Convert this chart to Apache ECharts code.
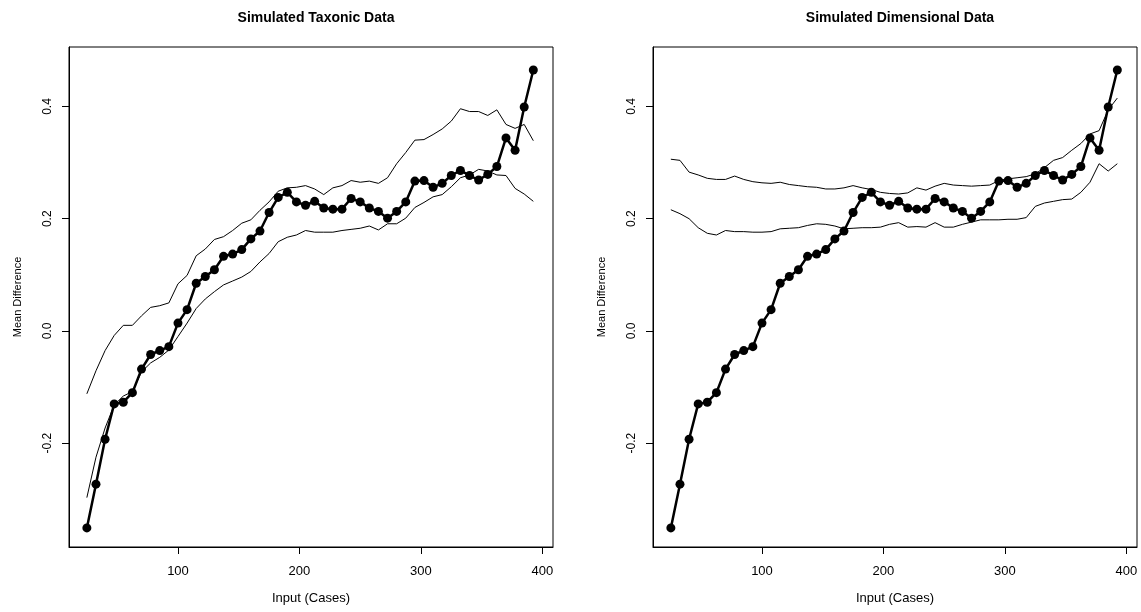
<!DOCTYPE html>
<html>
<head>
<meta charset="utf-8">
<script src="https://cdn.jsdelivr.net/npm/echarts@6/dist/echarts.min.js"></script>
<style>
  html, body { margin: 0; padding: 0; background: #ffffff; }
  #chart { width: 1141px; height: 612px; }
</style>
</head>
<body>
<div id="chart"></div>
<script>
// Sample sizes (number of input cases) shared by every curve
const inputCases = [
  25, 32.5, 40, 47.5, 55, 62.5, 70, 77.5, 85, 92.5,
  100, 107.5, 115, 122.5, 130, 137.5, 145, 152.5, 160, 167.5,
  175, 182.5, 190, 197.5, 205, 212.5, 220, 227.5, 235, 242.5,
  250, 257.5, 265, 272.5, 280, 287.5, 295, 302.5, 310, 317.5,
  325, 332.5, 340, 347.5, 355, 362.5, 370, 377.5, 385, 392.5
];

// Observed mean difference (same curve in both panels)
const meanDifference = [
  -0.351, -0.273, -0.193, -0.130, -0.127, -0.110, -0.068, -0.042, -0.035, -0.028,
  0.014, 0.038, 0.085, 0.097, 0.109, 0.133, 0.137, 0.145, 0.164, 0.178,
  0.211, 0.238, 0.247, 0.230, 0.224, 0.231, 0.219, 0.217, 0.217, 0.236,
  0.230, 0.219, 0.213, 0.201, 0.213, 0.230, 0.267, 0.268, 0.256, 0.263,
  0.277, 0.286, 0.277, 0.269, 0.279, 0.293, 0.344, 0.322, 0.399, 0.465
];

// Simulated taxonic data: upper and lower curves
const taxonicUpper = [
  -0.112, -0.071, -0.035, -0.008, 0.010, 0.010, 0.027, 0.042, 0.045, 0.050,
  0.084, 0.099, 0.134, 0.146, 0.163, 0.168, 0.179, 0.192, 0.198, 0.215,
  0.230, 0.249, 0.255, 0.256, 0.259, 0.253, 0.243, 0.255, 0.259, 0.268,
  0.265, 0.267, 0.263, 0.273, 0.298, 0.318, 0.340, 0.341, 0.350, 0.360,
  0.374, 0.396, 0.391, 0.391, 0.384, 0.394, 0.368, 0.361, 0.368, 0.339
];
const taxonicLower = [
  -0.297, -0.225, -0.173, -0.132, -0.116, -0.108, -0.073, -0.057, -0.047, -0.034,
  -0.010, 0.014, 0.040, 0.057, 0.070, 0.082, 0.089, 0.096, 0.106, 0.123,
  0.138, 0.159, 0.167, 0.171, 0.179, 0.176, 0.176, 0.176, 0.179, 0.181,
  0.183, 0.187, 0.180, 0.191, 0.191, 0.201, 0.220, 0.229, 0.239, 0.243,
  0.257, 0.273, 0.278, 0.288, 0.285, 0.278, 0.277, 0.254, 0.244, 0.231
];

// Simulated dimensional data: upper and lower curves
const dimensionalUpper = [
  0.306, 0.304, 0.283, 0.278, 0.272, 0.270, 0.270, 0.276, 0.270, 0.266,
  0.264, 0.263, 0.265, 0.261, 0.259, 0.257, 0.256, 0.253, 0.253, 0.255,
  0.259, 0.255, 0.252, 0.247, 0.245, 0.244, 0.246, 0.255, 0.251, 0.258,
  0.263, 0.260, 0.259, 0.258, 0.259, 0.260, 0.268, 0.271, 0.273, 0.275,
  0.280, 0.291, 0.304, 0.309, 0.322, 0.334, 0.351, 0.357, 0.394, 0.415
];
const dimensionalLower = [
  0.216, 0.209, 0.200, 0.184, 0.174, 0.171, 0.179, 0.177, 0.177, 0.176,
  0.176, 0.177, 0.182, 0.183, 0.184, 0.188, 0.191, 0.190, 0.187, 0.182,
  0.183, 0.184, 0.184, 0.185, 0.190, 0.193, 0.185, 0.186, 0.185, 0.193,
  0.185, 0.185, 0.190, 0.194, 0.198, 0.198, 0.198, 0.199, 0.199, 0.202,
  0.222, 0.228, 0.231, 0.234, 0.235, 0.247, 0.265, 0.298, 0.285, 0.298
];

const panelTitles = ['Simulated Taxonic Data', 'Simulated Dimensional Data'];
const xTickValues = [100, 200, 300, 400];
const yTickValues = [-0.2, 0.0, 0.2, 0.4];
const xTitle = 'Input (Cases)';
const yTitle = 'Mean Difference';

const FONT = '"Liberation Sans", Arial, sans-serif';
const INK = '#000000';

function pairs(values) {
  return inputCases.map((x, i) => [x, values[i]]);
}

const grids = [
  { left: 69, top: 47, width: 484, height: 500 },
  { left: 653, top: 47, width: 484, height: 500 }
];

function makeXAxis(gridIndex) {
  return {
    type: 'value', gridIndex,
    min: 10.3, max: 408.7,
    name: xTitle, nameLocation: 'middle', nameGap: 45,
    nameTextStyle: { fontFamily: FONT, fontSize: 13, color: INK },
    axisLine: { show: true, onZero: false, lineStyle: { color: INK, width: 1 } },
    axisTick: { show: true, inside: false, length: 7, customValues: xTickValues,
                lineStyle: { color: INK, width: 1 } },
    axisLabel: { show: true, customValues: xTickValues, margin: 18,
                 fontFamily: FONT, fontSize: 13, color: INK },
    splitLine: { show: false }
  };
}

function makeYAxis(gridIndex) {
  return {
    type: 'value', gridIndex,
    min: -0.385, max: 0.506,
    name: yTitle, nameLocation: 'middle', nameGap: 46,
    nameTextStyle: { fontFamily: FONT, fontSize: 11, color: INK },
    axisLine: { show: true, onZero: false, lineStyle: { color: INK, width: 1 } },
    axisTick: { show: true, inside: false, length: 7, customValues: yTickValues,
                lineStyle: { color: INK, width: 1 } },
    axisLabel: { show: true, customValues: yTickValues, rotate: 90, margin: 15,
                 fontFamily: FONT, fontSize: 12, color: INK,
                 formatter: v => Number(v).toFixed(1) },
    splitLine: { show: false }
  };
}

function bandSeries(values, idx) {
  return {
    type: 'line', xAxisIndex: idx, yAxisIndex: idx,
    data: pairs(values), showSymbol: false, symbol: 'none',
    lineStyle: { color: INK, width: 1 }, z: 2, silent: true, animation: false
  };
}

function mainSeries(idx) {
  return {
    type: 'line', xAxisIndex: idx, yAxisIndex: idx,
    data: pairs(meanDifference), symbol: 'circle', symbolSize: 9, showAllSymbol: true,
    itemStyle: { color: INK }, lineStyle: { color: INK, width: 2.5 }, z: 3,
    silent: true, animation: false
  };
}

const option = {
  backgroundColor: '#ffffff',
  animation: false,
  title: panelTitles.map((t, i) => ({
    text: t,
    left: grids[i].left + grids[i].width / 2,
    top: 6,
    textAlign: 'center',
    textStyle: { fontFamily: FONT, fontSize: 14, fontWeight: 'bold', color: INK }
  })),
  grid: grids.map(g => ({
    left: g.left, top: g.top, width: g.width, height: g.height,
    show: true, borderColor: INK, borderWidth: 1, backgroundColor: 'transparent',
    containLabel: false
  })),
  xAxis: [makeXAxis(0), makeXAxis(1)],
  yAxis: [makeYAxis(0), makeYAxis(1)],
  series: [
    bandSeries(taxonicUpper, 0),
    bandSeries(taxonicLower, 0),
    mainSeries(0),
    bandSeries(dimensionalUpper, 1),
    bandSeries(dimensionalLower, 1),
    mainSeries(1)
  ]
};

const chart = echarts.init(document.getElementById('chart'), null, { renderer: 'canvas' });
chart.setOption(option);
</script>
</body>
</html>
